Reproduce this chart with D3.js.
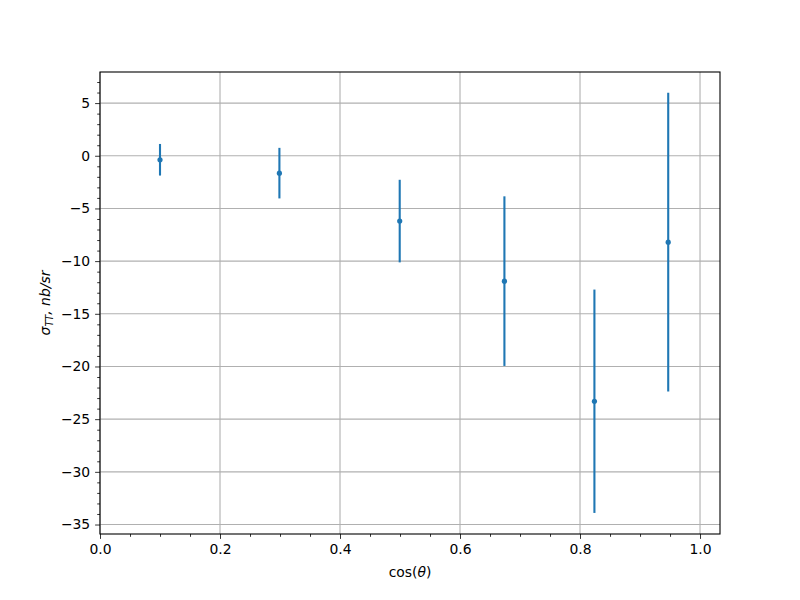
<!DOCTYPE html>
<html><head><meta charset="utf-8">
<script src="https://cdn.jsdelivr.net/npm/d3@7"></script>
<style>body{margin:0;background:#fff}svg{display:block}text{font-family:"DejaVu Sans",sans-serif}</style>
</head><body><svg id="c" width="800" height="600"></svg>
<script>
const xVals = [0.1, 0.299, 0.4995, 0.674, 0.824, 0.947];
const yVals = [-0.38, -1.65, -6.2, -11.9, -23.3, -8.2];
const yErr = [1.5, 2.4, 3.92, 8.05, 10.6, 14.17];
const xTicks = [0.0, 0.2, 0.4, 0.6, 0.8, 1.0];
const yTicks = [5, 0, -5, -10, -15, -20, -25, -30, -35];
const xDomain = [0, 1.0333];
const yDomain = [-35.9, 7.95];

const svg = d3.select("#c");
const L = 100, R = 720, T = 72, B = 534;
const x = d3.scaleLinear().domain(xDomain).range([L, R]);
const y = d3.scaleLinear().domain(yDomain).range([B, T]);
const color = "#1f77b4";
const fmtMinus = v => (v < 0 ? "\u2212" : "") + Math.abs(v);

// grid
const g = svg.append("g");
g.selectAll(".gx").data(xTicks).enter().append("line")
  .attr("x1", d => x(d)).attr("x2", d => x(d)).attr("y1", T).attr("y2", B)
  .attr("stroke", "#b0b0b0").attr("stroke-width", 1.1);
g.selectAll(".gy").data(yTicks).enter().append("line")
  .attr("x1", L).attr("x2", R).attr("y1", d => y(d)).attr("y2", d => y(d))
  .attr("stroke", "#b0b0b0").attr("stroke-width", 1.1);

// axes
const xMinor = d3.range(0, 1.0334, 0.05).filter(v => !xTicks.some(t => Math.abs(t - v) < 1e-6));
const yMinor = d3.range(-35, 8, 1).filter(v => v % 5 !== 0);
const xAxis = d3.axisBottom(x).tickValues(xTicks).tickFormat(d3.format(".1f")).tickSizeInner(4.9).tickSizeOuter(0).tickPadding(4.9);
const xAxisMinor = d3.axisBottom(x).tickValues(xMinor).tickFormat("").tickSizeInner(2.8).tickSizeOuter(0);
const yAxis = d3.axisLeft(y).tickValues(yTicks).tickFormat(fmtMinus).tickSizeInner(4.9).tickSizeOuter(0).tickPadding(4.9);
const yAxisMinor = d3.axisLeft(y).tickValues(yMinor).tickFormat("").tickSizeInner(2.8).tickSizeOuter(0);

function style(sel) {
  sel.select(".domain").remove();
  sel.selectAll("line").attr("stroke", "#000").attr("stroke-width", 0.8);
  sel.selectAll("text").attr("font-size", "13.9px").attr("fill", "#000").attr("font-family", "DejaVu Sans");
}
svg.append("g").attr("transform", `translate(0,${B})`).call(xAxis).call(style);
svg.append("g").attr("transform", `translate(0,${B})`).call(xAxisMinor).call(style);
svg.append("g").attr("transform", `translate(${L},0)`).call(yAxis).call(style);
svg.append("g").attr("transform", `translate(${L},0)`).call(yAxisMinor).call(style);

// error bars
const data = xVals.map((v, i) => ({x: v, y: yVals[i], e: yErr[i]}));
svg.selectAll(".eb").data(data).enter().append("line")
  .attr("x1", d => x(d.x)).attr("x2", d => x(d.x))
  .attr("y1", d => y(d.y + d.e)).attr("y2", d => y(d.y - d.e))
  .attr("stroke", color).attr("stroke-width", 2.1);
svg.selectAll(".pt").data(data).enter().append("circle")
  .attr("cx", d => x(d.x)).attr("cy", d => y(d.y)).attr("r", 2.6)
  .attr("fill", color);

// frame
svg.append("rect").attr("x", L).attr("y", T).attr("width", R - L).attr("height", B - T)
  .attr("fill", "none").attr("stroke", "#000").attr("stroke-width", 1.1);

// labels
const xl = svg.append("text").attr("x", (L + R) / 2).attr("y", 577).attr("text-anchor", "middle")
  .attr("font-size", "13.9px");
xl.append("tspan").text("cos(");
xl.append("tspan").attr("font-style", "italic").text("\u03b8");
xl.append("tspan").text(")");

const yl = svg.append("text").attr("transform", "translate(50,303) rotate(-90)")
  .attr("text-anchor", "middle").attr("font-size", "13.9px").attr("font-style", "italic");
yl.append("tspan").text("\u03c3");
yl.append("tspan").attr("font-size", "9.7px").attr("dy", 3).text("TT");
yl.append("tspan").attr("dy", -3).text(", nb/sr");
</script></body></html>
